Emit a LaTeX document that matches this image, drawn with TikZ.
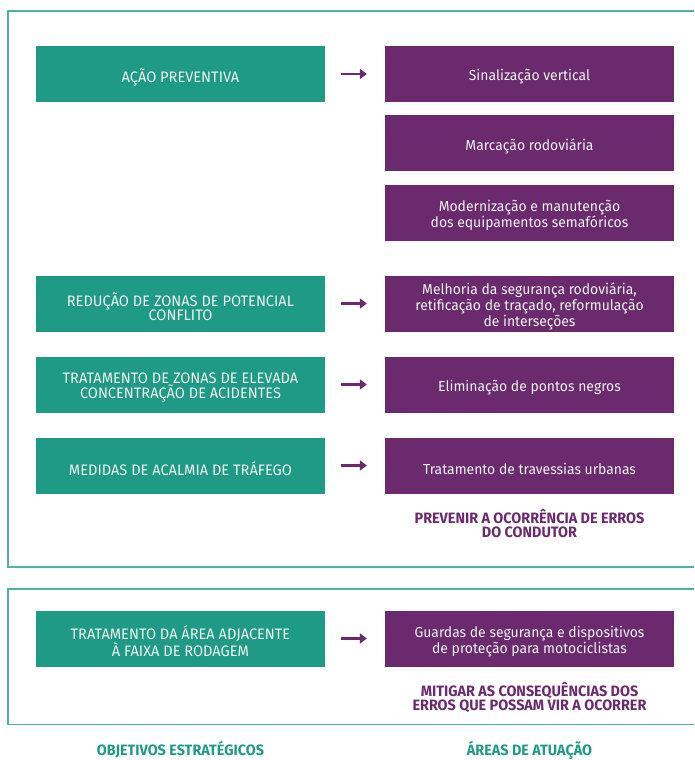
\documentclass[tikz,border=0pt]{standalone}
\usepackage{fontspec}
\setmainfont[FakeStretch=0.96]{Fira Sans}
\usetikzlibrary{arrows.meta}
\definecolor{tgreen}{HTML}{1F9A86}
\definecolor{tpurple}{HTML}{6B2A6E}
\definecolor{tframe}{HTML}{4DB39F}
\definecolor{ttext}{HTML}{EEF4F1}
\tikzset{
  gbox/.style={rectangle, fill=tgreen, minimum width=289pt, minimum height=56pt, inner sep=0pt},
  pbox/.style={rectangle, fill=tpurple, minimum width=289pt, minimum height=56pt, inner sep=0pt},
  gtext/.style={text=ttext, align=center, inner sep=0pt, yshift=-3pt, font=\fontsize{15.2}{14.5}\selectfont},
  ptext/.style={text=ttext, align=center, inner sep=0pt, yshift=-3pt, font=\fontsize{14.5}{14.5}\selectfont},
  conn/.style={draw=tpurple, line width=2.6pt, -{Triangle[length=7pt,width=10pt]}, shorten <=16pt, shorten >=18pt},
  frame/.style={draw=tframe, line width=1.6pt},
  plabel/.style={text=tpurple, align=center, font=\bfseries\fontsize{15}{14}\selectfont},
  glabel/.style={text=tgreen, align=center, inner sep=0pt, font=\bfseries\fontsize{15}{14}\selectfont}
}
\begin{document}
\begin{tikzpicture}[x=1pt,y=-1pt]
\useasboundingbox (0,0) rectangle (694,760);
\draw[frame] (694,11) -- (8,11) -- (8,567) -- (694,567);
\draw[frame] (694,589) -- (8,589) -- (8,724.5) -- (694,724.5);

\node[gbox, label={[gtext]center:{AÇÃO PREVENTIVA}}] (g1) at (180.5,74) {};
\node[pbox, label={[ptext]center:{Sinalização vertical}}] (p1) at (529.5,74) {};
\node[pbox, label={[ptext]center:{Marcação rodoviária}}] (p2) at (529.5,143) {};
\node[pbox, label={[ptext]center:{Modernização e manutenção\\dos equipamentos semafóricos}}] (p3) at (529.5,212.5) {};

\node[gbox, label={[gtext]center:{REDUÇÃO DE ZONAS DE POTENCIAL\\CONFLITO}}] (g2) at (180.5,303.5) {};
\node[pbox, label={[ptext]center:{Melhoria da segurança rodoviária,\\retificação de traçado, reformulação\\de interseções}}] (p4) at (529.5,303.5) {};

\node[gbox, label={[gtext]center:{TRATAMENTO DE ZONAS DE ELEVADA\\CONCENTRAÇÃO DE ACIDENTES}}] (g3) at (180.5,384.5) {};
\node[pbox, label={[ptext]center:{Eliminação de pontos negros}}] (p5) at (529.5,384.5) {};

\node[gbox, label={[gtext]center:{MEDIDAS DE ACALMIA DE TRÁFEGO}}] (g4) at (180.5,465.5) {};
\node[pbox, label={[ptext]center:{Tratamento de travessias urbanas}}] (p6) at (529.5,465.5) {};

\node[plabel] (l1) at (529.5,524) {PREVENIR A OCORRÊNCIA DE ERROS\\DO CONDUTOR};

\node[gbox, label={[gtext]center:{TRATAMENTO DA ÁREA ADJACENTE\\À FAIXA DE RODAGEM}}] (g5) at (180.5,638.5) {};
\node[pbox, label={[ptext]center:{Guardas de segurança e dispositivos\\de proteção para motociclistas}}] (p7) at (529.5,638.5) {};

\node[plabel] (l2) at (529.5,697) {MITIGAR AS CONSEQUÊNCIAS DOS\\ERROS QUE POSSAM VIR A OCORRER};

\node[glabel, anchor=base] (o1) at (180.5,755.5) {OBJETIVOS ESTRATÉGICOS};
\node[glabel, anchor=base] (o2) at (529.5,755.5) {ÁREAS DE ATUAÇÃO};

\draw[conn] (g1.east) -- (p1.west);
\draw[conn] (g2.east) -- (p4.west);
\draw[conn] (g3.east) -- (p5.west);
\draw[conn] (g4.east) -- (p6.west);
\draw[conn] (g5.east) -- (p7.west);
\end{tikzpicture}
\end{document}
